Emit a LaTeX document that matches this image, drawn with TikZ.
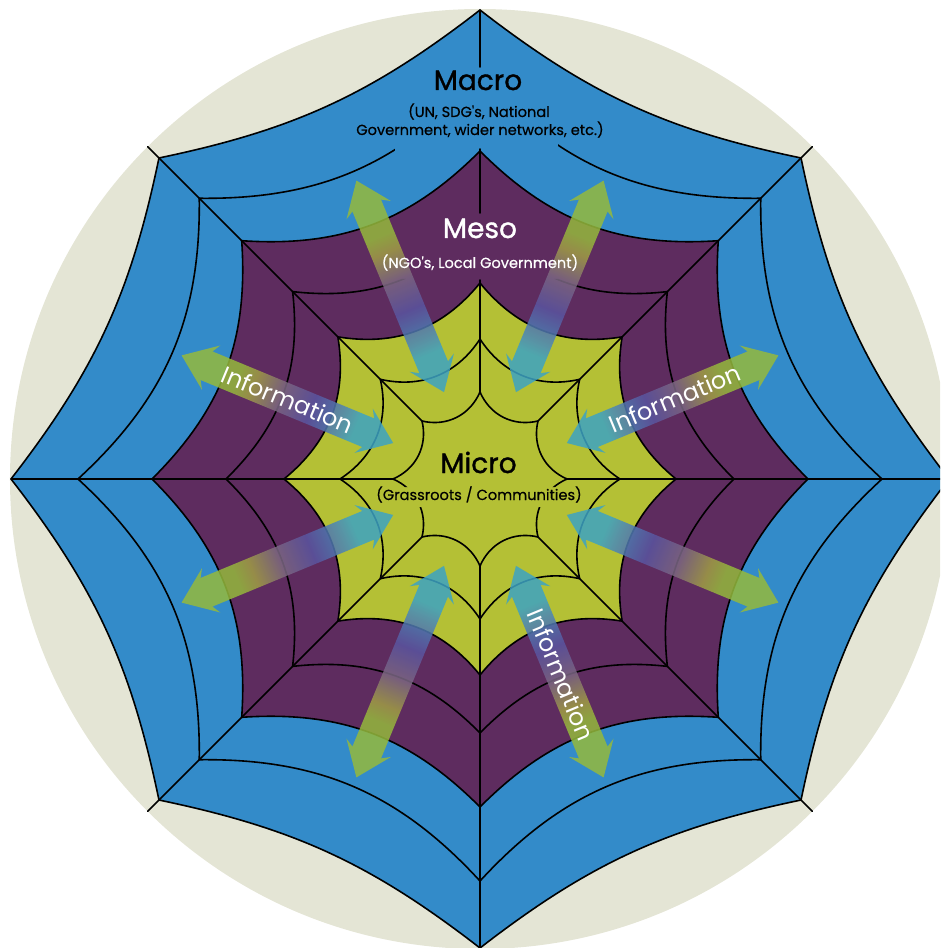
\documentclass[tikz,border=0pt]{standalone}
\usepackage{fontspec}
\setmainfont{Poppins}
\newfontfamily\titlefam{Poppins}[FakeBold=1.2]
\newfontfamily\subfam{Poppins}[FakeBold=0.5]
\definecolor{beige}{HTML}{E4E5D5}
\definecolor{webblue}{HTML}{338BC9}
\definecolor{webpurple}{HTML}{5E2C5F}
\definecolor{webgreen}{HTML}{B4C035}
\definecolor{arrgreen}{HTML}{95B93C}
\definecolor{arrolive}{HTML}{A09D45}
\definecolor{arrmauve}{HTML}{7C6782}
\definecolor{arrpurple}{HTML}{5A55A0}
\definecolor{arrcyanb}{HTML}{4A8AB8}
\definecolor{arrcyan}{HTML}{3DA3C3}
\pgfdeclarehorizontalshading{infoshade}{100bp}{color(0bp)=(arrcyan); color(25bp)=(arrcyan); color(34bp)=(arrcyan); color(37bp)=(arrcyanb); color(44.5bp)=(arrpurple); color(51.5bp)=(arrmauve); color(58bp)=(arrolive); color(62bp)=(arrgreen); color(100bp)=(arrgreen)}
\newcommand\ringclosed[4]{%
  \path[#4] (0:#1) to[bend left=#3] (45:#2) to[bend left=#3] (90:#1) to[bend left=#3] (135:#2)
    to[bend left=#3] (180:#1) to[bend left=#3] (225:#2) to[bend left=#3] (270:#1)
    to[bend left=#3] (315:#2) to[bend left=#3] (0:#1) -- cycle;}
\begin{document}
\begin{tikzpicture}[x=1pt,y=1pt,line join=round,line cap=round,
  webline/.style={draw=black,line width=1.6pt},
  titlestyle/.style={font=\titlefam\fontsize{28}{30}\selectfont,anchor=base,inner sep=0pt},
  substyle/.style={font=\subfam\fontsize{14.6}{16}\selectfont,anchor=base,inner sep=0pt},
  infostyle/.style={font=\fontsize{24}{28}\selectfont,text=white,inner sep=0pt}]
\useasboundingbox (-480,-469) rectangle (460,479);
\clip (-480,-469) rectangle (460,479);
% background disc
\fill[beige] (0,0) circle[radius=470];
% coloured zones
\ringclosed{469}{454}{13}{fill=webblue}
\ringclosed{328}{337}{24.5}{fill=webpurple}
\ringclosed{196}{201}{30}{fill=webgreen}
% spokes
\foreach \a in {0,180,270} \draw[webline] (\a:87) -- (\a:469);
\foreach \a in {45,135,225,315} \draw[webline] (\a:82) -- (\a:470);
\draw[webline] (90:87) -- (90:199);
\draw[webline] (90:266) -- (90:330);
\draw[webline] (90:412) -- (90:469);
% rings
\ringclosed{469}{454}{13}{webline}
\begin{scope}
  \clip (-500,-500) rectangle (-85,500) (78,-500) rectangle (500,500) (-500,-500) rectangle (500,300);
  \ringclosed{402}{397}{24}{webline}
\end{scope}
\ringclosed{328}{337}{24.5}{webline}
\begin{scope}
  \clip (-500,-500) rectangle (-97,500) (90,-500) rectangle (500,500) (-500,-500) rectangle (500,200);
  \ringclosed{254}{265}{26}{webline}
\end{scope}
\ringclosed{196}{201}{30}{webline}
\ringclosed{140}{141}{35}{webline}
\begin{scope}
  \clip (-500,-500) rectangle (500,-28) (-500,-8) rectangle (500,500);
  \ringclosed{87}{82}{40}{webline}
\end{scope}
% information arrows
\foreach \ang in {22.5,67.5,112.5,157.5,202.5,247.5,292.5,337.5}{
  \begin{scope}[transform canvas={rotate=\ang}]
    \shade[shading=infoshade,fill opacity=0.85] (94,0) -- (126,24) -- (121,15.5) -- (296,15.5) -- (291,24)
      -- (323,0) -- (291,-24) -- (296,-15.5) -- (121,-15.5) -- (126,-24) -- cycle;
  \end{scope}
}
% labels
\node[titlestyle,text=black] (macro) at (-2,389) {Macro};
\node[substyle,text=black] (macroa) at (-1,362) {(UN, SDG's, National};
\node[substyle,text=black] (macrob) at (0,344) {Government, wider networks, etc.)};
\node[titlestyle,text=white] (meso) at (0,241) {Meso};
\node[substyle,text=white] (mesoa) at (0,211) {(NGO's, Local Government)};
\node[titlestyle,text=black] (micro) at (-1.5,6) {Micro};
\node[substyle,text=black] (microa) at (-1,-21) {(Grassroots / Communities)};
\node[infostyle,rotate=-22.5] (infoa) at (157.5:208) {Information};
\node[infostyle,rotate=22.5] (infob) at (22.5:211) {Information};
\node[infostyle,rotate=-67.5] (infoc) at (-67.5:212) {Information};
\end{tikzpicture}
\end{document}
